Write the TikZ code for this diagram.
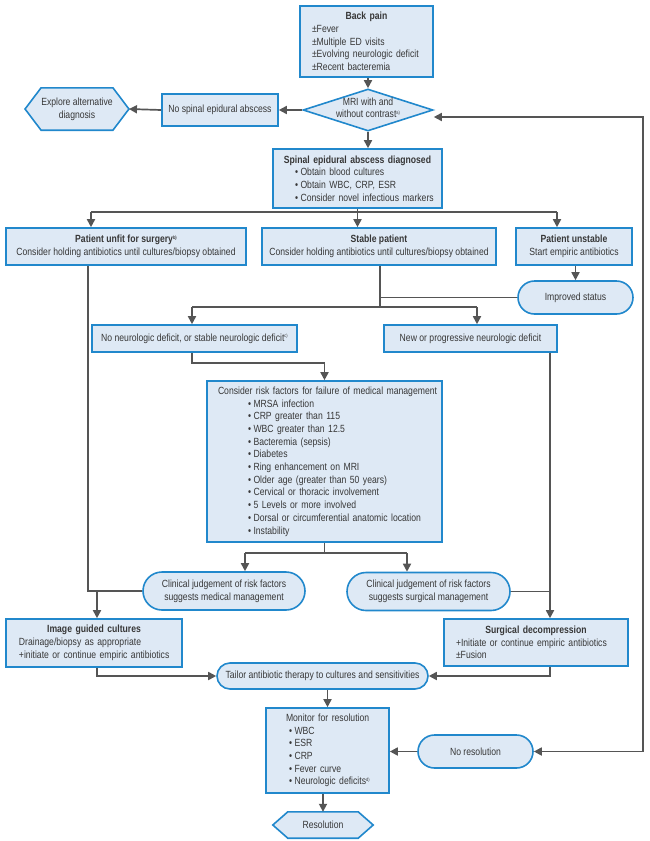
\documentclass[tikz,border=0pt]{standalone}
\usepackage{fontspec}
\setmainfont{Liberation Sans}[FakeStretch=0.83]
\usetikzlibrary{shapes.geometric,shapes.misc,arrows.meta,calc,backgrounds}
\definecolor{bblue}{RGB}{33,136,204}
\definecolor{bfill}{RGB}{222,233,245}
\definecolor{lcol}{RGB}{85,85,85}
\definecolor{tcol}{RGB}{55,55,55}
\newcommand\nfont{\fontsize{10.4}{12.7}\selectfont}
\newcommand\bul{\textbullet\hspace{2.5pt}}
\newcommand\sups[1]{\raisebox{3.6pt}{\fontsize{4.8}{5}\selectfont #1}}
\newcommand\boxtitle[1]{\makebox[\linewidth][c]{\bfseries #1}}
\tikzset{
  box/.style={draw=bblue, fill=bfill, line width=1.6pt, inner sep=0pt, text=tcol, font=\nfont, align=center},
  oval/.style={box, rounded rectangle},
  dia/.style={box, diamond},
  hexa/.style={inner sep=0pt, text=tcol, font=\nfont, align=center},
  hexline/.style={draw=bblue, fill=bfill, line width=1.6pt},
  conn/.style={draw=lcol, line width=1.7pt},
  arr/.style={conn, -{Triangle[length=8pt,width=8pt]}},
}
\begin{document}
\begin{tikzpicture}[x=1pt,y=-1pt]
\useasboundingbox (0,0) rectangle (650,841);

% ---------- nodes ----------
\node[box, minimum width=133, minimum height=71, text width=133pt, align=left] (back) at (366.5,41.5)
 {\boxtitle{Back pain}\\
  \hspace*{12pt}±Fever\\
  \hspace*{12pt}±Multiple ED visits\\
  \hspace*{12pt}±Evolving neurologic deficit\\
  \hspace*{12pt}±Recent bacteremia};

\node[dia, minimum width=130, minimum height=42] (mri) at (368,110)
 {\raisebox{-2.8pt}{\smash{\makebox[0pt]{\begin{tabular}{@{}c@{}}MRI with and\\without contrast\sups{a)}\end{tabular}}}}};

\node[box, minimum width=116, minimum height=32] (nosea) at (220,110) {No spinal epidural abscess};

\node[hexa, minimum width=68, minimum height=42] (explore) at (77,109) {Explore alternative\\diagnosis};
\coordinate (exE) at ($(explore.east)+(16,0)$);
\coordinate (exW) at ($(explore.west)+(-16,0)$);

\node[box, minimum width=169, minimum height=59, text width=169pt, align=left] (sea) at (357.5,178.5)
 {\boxtitle{Spinal epidural abscess diagnosed}\\
  \hspace*{22pt}\bul Obtain blood cultures\\
  \hspace*{22pt}\bul Obtain WBC, CRP, ESR\\
  \hspace*{22pt}\bul Consider novel infectious markers};

\node[box, minimum width=240, minimum height=37] (unfit) at (126,246.5)
 {{\bfseries Patient unfit for surgery\sups{b)}}\\Consider holding antibiotics until cultures/biopsy obtained};
\node[box, minimum width=234, minimum height=37] (stable) at (379,246.5)
 {{\bfseries Stable patient}\\Consider holding antibiotics until cultures/biopsy obtained};
\node[box, minimum width=116, minimum height=37] (unstable) at (574,246.5)
 {{\bfseries Patient unstable}\\Start empiric antibiotics};

\node[oval, minimum width=115, minimum height=33] (improved) at (575.5,297.5) {Improved status};

\node[box, minimum width=205, minimum height=27] (noneuro) at (194.5,338.5)
 {No neurologic deficit, or stable neurologic deficit\sups{c)}};
\node[box, minimum width=173, minimum height=27] (newprog) at (470.5,338.5)
 {New or progressive neurologic deficit};

\node[box, minimum width=235, minimum height=161, text width=235pt, align=left] (risk) at (324.5,461.5)
 {\hspace*{11pt}Consider risk factors for failure of medical management\\
  \hspace*{41pt}\bul MRSA infection\\
  \hspace*{41pt}\bul CRP greater than 115\\
  \hspace*{41pt}\bul WBC greater than 12.5\\
  \hspace*{41pt}\bul Bacteremia (sepsis)\\
  \hspace*{41pt}\bul Diabetes\\
  \hspace*{41pt}\bul Ring enhancement on MRI\\
  \hspace*{41pt}\bul Older age (greater than 50 years)\\
  \hspace*{41pt}\bul Cervical or thoracic involvement\\
  \hspace*{41pt}\bul 5 Levels or more involved\\
  \hspace*{41pt}\bul Dorsal or circumferential anatomic location\\
  \hspace*{41pt}\bul Instability};

\node[oval, minimum width=162, minimum height=38] (medoval) at (224,591)
 {Clinical judgement of risk factors\\suggests medical management};
\node[oval, minimum width=163, minimum height=38] (surgoval) at (428.5,591.5)
 {Clinical judgement of risk factors\\suggests surgical management};

\node[box, minimum width=176, minimum height=48, text width=176pt, align=left] (imgbox) at (94,643)
 {\boxtitle{Image guided cultures}\\
  \hspace*{13pt}Drainage/biopsy as appropriate\\
  \hspace*{13pt}+initiate or continue empiric antibiotics};
\node[box, minimum width=184, minimum height=47, text width=184pt, align=left] (surgbox) at (536,642.5)
 {\boxtitle{Surgical decompression}\\
  \hspace*{12pt}+Initiate or continue empiric antibiotics\\
  \hspace*{12pt}±Fusion};

\node[oval, minimum width=211, minimum height=26] (tailor) at (322.5,676)
 {Tailor antibiotic therapy to cultures and sensitivities};

\node[box, minimum width=123, minimum height=85, text width=123pt, align=left] (monitor) at (327.5,750.5)
 {\hspace*{20pt}Monitor for resolution\\
  \hspace*{23pt}\bul WBC\\
  \hspace*{23pt}\bul ESR\\
  \hspace*{23pt}\bul CRP\\
  \hspace*{23pt}\bul Fever curve\\
  \hspace*{23pt}\bul Neurologic deficits\sups{d)}};

\node[oval, minimum width=115, minimum height=33] (noresol) at (475.5,751.5) {No resolution};

\node[hexa, minimum width=70, minimum height=26] (resolution) at (323,825) {Resolution};
\coordinate (reE) at ($(resolution.east)+(15,0)$);
\coordinate (reW) at ($(resolution.west)+(-15,0)$);

\begin{scope}[on background layer]
\draw[hexline] (explore.north west) -- (explore.north east) -- (exE) -- (explore.south east)
  -- (explore.south west) -- (exW) -- cycle;
\draw[hexline] (resolution.north west) -- (resolution.north east) -- (reE) -- (resolution.south east)
  -- (resolution.south west) -- (reW) -- cycle;
\end{scope}

% ---------- connectors ----------
\draw[arr] (mri.north |- back.south) -- (mri.north);
\draw[arr] (mri.west) -- (nosea.east);
\draw[arr] (nosea.west) -- (exE);
\draw[arr] (mri.south) -- (mri.south |- sea.north);

\coordinate (bl) at (91,212);
\coordinate (br) at (557,212);
\draw[conn] (bl) -- (br);
\draw[arr] (bl) -- (bl |- unfit.north);
\draw[arr] (br) -- (br |- unstable.north);
\draw[arr] (sea.south) -- (sea.south |- stable.north);

\draw[arr] (improved.north |- unstable.south) -- (improved.north);

\coordinate (sv) at (380,307);
\draw[conn] (sv |- stable.south) -- (sv);
\draw[conn] (sv |- improved.west) -- (improved.west);
\coordinate (nl) at (192,307);
\coordinate (nr) at (477,307);
\draw[conn] (nl) -- (nr);
\draw[arr] (nl) -- (nl |- noneuro.north);
\draw[arr] (nr) -- (nr |- newprog.north);

\coordinate (rk) at (192,363);
\draw[arr] (rk |- noneuro.south) -- (rk) -| (risk.north);

\coordinate (ml) at (245,553);
\coordinate (mr) at (407,553);
\draw[conn] (risk.south) -- (risk.south |- ml);
\draw[conn] (ml) -- (mr);
\draw[arr] (ml) -- (ml |- medoval.north);
\draw[arr] (mr) -- (mr |- surgoval.north);

\coordinate (lv) at (88,591);
\draw[conn] (lv |- unfit.south) -- (lv) -- (medoval.west);
\coordinate (la) at (97,591);
\draw[arr] (la) -- (la |- imgbox.north);

\coordinate (rv) at (550,591.5);
\draw[arr] (rv |- newprog.south) -- (rv |- surgbox.north);
\draw[conn] (surgoval.east) -- (rv);

\coordinate (tl) at (97,676);
\coordinate (tr) at (550,676);
\draw[arr] (tl |- imgbox.south) -- (tl) -- (tailor.west);
\draw[arr] (tr |- surgbox.south) -- (tr) -- (tailor.east);

\draw[arr] (monitor.north |- tailor.south) -- (monitor.north);
\draw[arr] (resolution.north |- monitor.south) -- (resolution.north);
\draw[arr] (noresol.west) -- (noresol.west -| monitor.east);

\coordinate (fb) at (643,751.5);
\coordinate (ft) at (643,117);
\coordinate (mriin) at ($(mri.east)+(0,7)$);
\draw[arr] (fb) -- (noresol.east);
\draw[arr] (fb) -- (ft) -- (mriin);
\end{tikzpicture}
\end{document}
